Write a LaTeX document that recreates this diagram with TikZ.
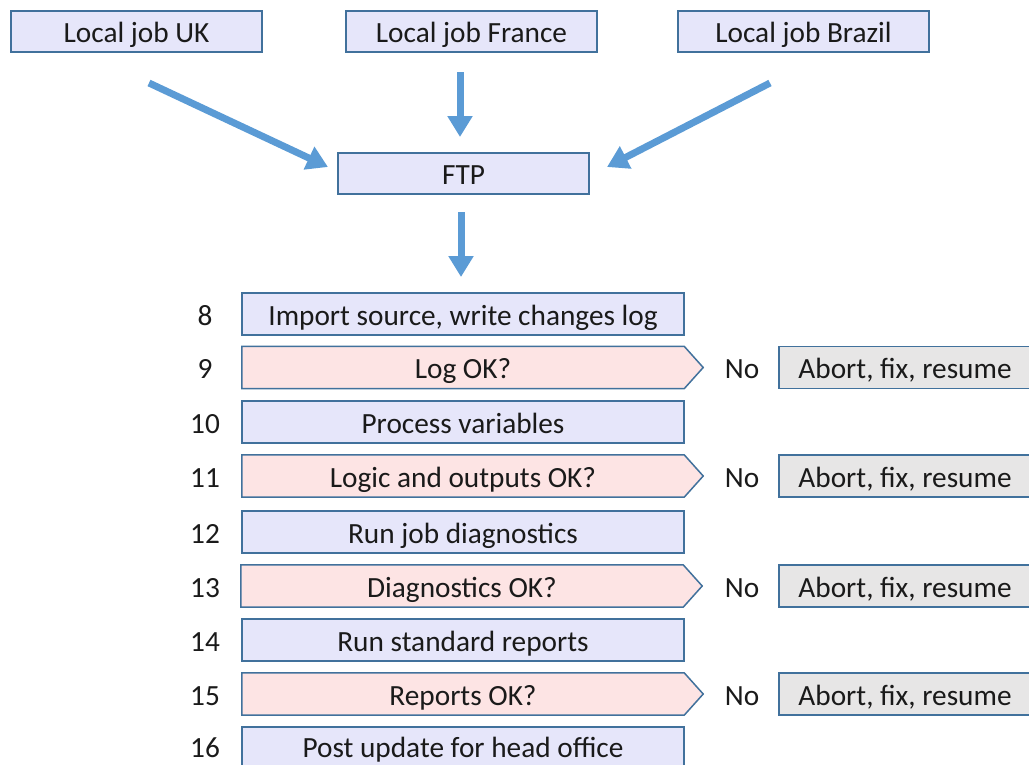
\documentclass[tikz,border=0pt]{standalone}
\usepackage{fontspec}
\setmainfont{Carlito}
\usetikzlibrary{arrows.meta}
\definecolor{boxfill}{HTML}{E6E6FA}
\definecolor{boxline}{HTML}{41719C}
\definecolor{decfill}{HTML}{FDE4E4}
\definecolor{greyfill}{HTML}{E7E6E6}
\definecolor{arrowblue}{HTML}{5B9BD5}
\definecolor{txt}{HTML}{1A1A1A}
\begin{document}
\begin{tikzpicture}[x=1pt,y=-1pt,
  font=\fontsize{29.3}{34}\selectfont, text=txt,
  every node/.style={text height=27pt, text depth=5pt},
  box/.style={draw=boxline, fill=boxfill, line width=1.5pt, minimum width=251pt, minimum height=41pt, inner sep=0pt},
  stepbox/.style={box, minimum width=442pt, minimum height=42pt},
  decnode/.style={minimum width=442pt, minimum height=42pt, inner sep=0pt},
  decshape/.style={draw=boxline, fill=decfill, line width=1.5pt, line join=miter},
  abortbox/.style={draw=boxline, fill=greyfill, line width=1.5pt, minimum width=252pt, minimum height=42pt, inner sep=0pt},
  num/.style={inner sep=0pt},
  nolabel/.style={inner sep=0pt},
  flow/.style={draw=arrowblue, line width=7pt, -{Triangle[length=21pt,width=24pt]}}
]
\useasboundingbox (0,0) rectangle (1029,764);

% top boxes
\node[box] (uk) at (136.5,31.5) {Local job UK};
\node[box] (fr) at (471.5,31.5) {Local job France};
\node[box] (br) at (803.5,31.5) {Local job Brazil};
\node[box] (ftp) at (463.5,173.5) {FTP};

% arrows (free floating)
\coordinate (ukA) at (149,83);
\coordinate (ukB) at (328,167);
\coordinate (frA) at (460,72);
\coordinate (frB) at (460,137);
\coordinate (brA) at (770,83);
\coordinate (brB) at (607,167);
\coordinate (ftpA) at (461,212);
\coordinate (ftpB) at (461,277);
\draw[flow] (ukA) -- (ukB);
\draw[flow] (frA) -- (frB);
\draw[flow] (brA) -- (brB);
\draw[flow] (ftpA) -- (ftpB);

% steps
\node[stepbox] (s8) at (463,314) {Import source, write changes log};
\node[decnode] (s9) at (463,367.5) {};
\node[stepbox] (s10) at (463,422) {Process variables};
\node[decnode] (s11) at (463,476) {};
\node[stepbox] (s12) at (463,532) {Run job diagnostics};
\node[decnode] (s13) at (462,586) {};
\node[stepbox] (s14) at (463,640) {Run standard reports};
\node[decnode] (s15) at (463,694) {};
\node[stepbox, text depth=9pt] (s16) at (463,748) {Post update for head office};

\foreach \d/\t in {s9/Log OK?, s11/Logic and outputs OK?, s13/Diagnostics OK?, s15/Reports OK?}{
  \path[decshape] (\d.north west) -- (\d.north east) -- ([xshift=19pt]\d.east) -- (\d.south east) -- (\d.south west) -- cycle;
  \node at (\d.center) {\t};
}

% numbers
\foreach \d/\n in {s8/8, s9/9, s10/10, s11/11, s12/12, s13/13, s14/14, s15/15}{
  \node[num] (n\n) at (205,0 |- \d.center) {\n};
}
\node[num, text depth=9pt] (n16) at (205,0 |- s16.center) {16};

% No + abort
\foreach \d in {s9, s11, s13, s15}{
  \node[nolabel] (no\d) at (742,0 |- \d.center) {No};
  \node[abortbox] (ab\d) at (905,0 |- \d.center) {Abort, fix, resume};
}
\end{tikzpicture}
\end{document}
